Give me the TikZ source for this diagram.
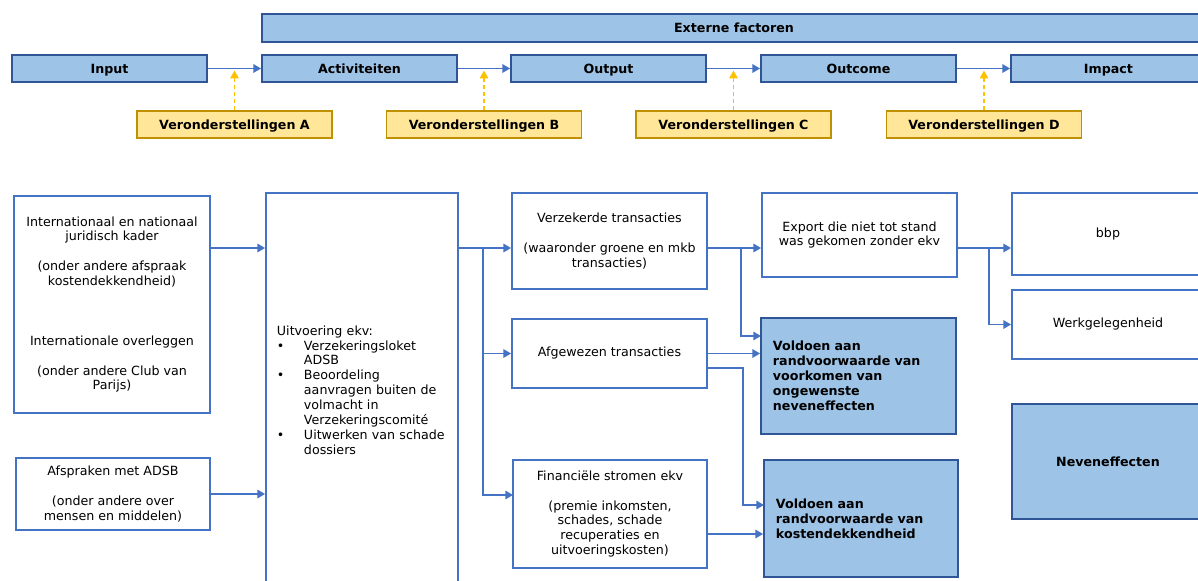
\documentclass[tikz,border=0pt]{standalone}
\usepackage{fontspec}
\setmainfont{DejaVu Sans}
\usetikzlibrary{arrows.meta}

\definecolor{boxblue}{RGB}{157,195,230}
\definecolor{edgeblue}{RGB}{47,85,151}
\definecolor{lineblue}{RGB}{68,114,196}
\definecolor{noteyellow}{RGB}{255,230,153}
\definecolor{noteedge}{RGB}{191,144,0}
\definecolor{dashyellow}{RGB}{255,192,0}

\newcommand{\diagfont}{\fontsize{9}{10.6}\selectfont}

\tikzset{
  base/.style={draw, line width=1.25pt, inner sep=2pt, align=center, font=\diagfont},
  bluebox/.style={base, fill=boxblue, draw=edgeblue, font=\diagfont\bfseries},
  stage/.style={bluebox, minimum width=4.875cm, minimum height=0.675cm,
    text height=1.6ex, text depth=0.4ex},
  whitebox/.style={base, fill=white, draw=lineblue},
  notebox/.style={base, fill=noteyellow, draw=noteedge, font=\diagfont\bfseries,
    minimum width=4.875cm, minimum height=0.675cm, text height=1.6ex, text depth=0.4ex},
  conn/.style={draw=lineblue, line width=1.25pt, -{Triangle[length=5.5pt,width=6pt]}},
  assume/.style={draw=dashyellow, line width=1.1pt, dash pattern=on 3pt off 2pt,
    shorten >=1.5pt, -{Triangle[length=5.5pt,width=6pt]}},
}

\begin{document}
\begin{tikzpicture}[x=0.025cm, y=-0.025cm]
\useasboundingbox (0,0) rectangle (1198,580);

% Top chain
\node[bluebox, minimum width=23.6cm, minimum height=0.7cm] (ext) at (734,28) {Externe factoren};
\node[stage] (input) at (109.5,68.5) {Input};
\node[stage] (activ) at (359.5,68.5) {Activiteiten};
\node[stage] (output) at (608.5,68.5) {Output};
\node[stage] (outcome) at (858.5,68.5) {Outcome};
\node[stage] (impact) at (1108.5,68.5) {Impact};

\draw[conn] (input.east) -- (activ.west);
\draw[conn] (activ.east) -- (output.west);
\draw[conn] (output.east) -- (outcome.west);
\draw[conn] (outcome.east) -- (impact.west);

% Assumptions
\node[notebox] (vera) at (234.5,124.5) {Veronderstellingen A};
\node[notebox] (verb) at (484,124.5) {Veronderstellingen B};
\node[notebox] (verc) at (733.5,124.5) {Veronderstellingen C};
\node[notebox] (verd) at (984,124.5) {Veronderstellingen D};

\draw[assume] (vera.north) -- (vera.north |- input.east);
\draw[assume] (verb.north) -- (verb.north |- input.east);
\draw[assume] (verc.north) -- (verc.north |- input.east);
\draw[assume] (verd.north) -- (verd.north |- input.east);

% Input column
\node[whitebox, minimum width=4.9cm, minimum height=5.425cm] (intl) at (112,304.5)
  {Internationaal en nationaal\\ juridisch kader\\[10.6pt] (onder andere afspraak\\ kostendekkendheid)\\[31.8pt]
   Internationale overleggen\\[10.6pt] (onder andere Club van\\ Parijs)};
\node[whitebox, minimum width=4.85cm, minimum height=1.8cm] (afspr) at (113,494)
  {Afspraken met ADSB\\[10.6pt] (onder andere over\\ mensen en middelen)};

% Activities
\node[whitebox, minimum width=4.8cm, minimum height=9.85cm, text width=4.25cm,
  inner xsep=0.275cm, align=left] (uitv) at (362,390)
  {Uitvoering ekv:\\
   \makebox[0.675cm][l]{\textbullet}Verzekeringsloket\\
   \hspace*{0.675cm}ADSB\\
   \makebox[0.675cm][l]{\textbullet}Beoordeling\\
   \hspace*{0.675cm}aanvragen buiten de\\
   \hspace*{0.675cm}volmacht in\\
   \hspace*{0.675cm}Verzekeringscomité\\
   \makebox[0.675cm][l]{\textbullet}Uitwerken van schade\\
   \hspace*{0.675cm}dossiers};

% Output column
\node[whitebox, minimum width=4.875cm, minimum height=2.4cm] (verz) at (609.5,241)
  {Verzekerde transacties\\[10.6pt] (waaronder groene en mkb\\ transacties)};
\node[whitebox, minimum width=4.875cm, minimum height=1.725cm] (afgew) at (609.5,353.5)
  {Afgewezen transacties};
\node[whitebox, minimum width=4.85cm, minimum height=2.7cm] (fin) at (610,514)
  {Financiële stromen ekv\\[10.6pt] (premie inkomsten,\\ schades, schade\\ recuperaties en\\ uitvoeringskosten)};

% Outcome column
\node[whitebox, minimum width=4.875cm, minimum height=2.1cm] (export) at (859.5,235)
  {Export die niet tot stand\\ was gekomen zonder ekv};
\node[bluebox, text width=4.275cm, inner xsep=0.3cm, align=left, minimum height=2.9cm] (vold1) at (858.5,376)
  {Voldoen aan\\ randvoorwaarde van\\ voorkomen van\\ ongewenste\\ neveneffecten};
\node[bluebox, text width=4.25cm, inner xsep=0.3cm, align=left, minimum height=2.925cm] (vold2) at (861,518.5)
  {Voldoen aan\\ randvoorwaarde van\\ kostendekkendheid};

% Impact column
\node[whitebox, minimum width=4.8cm, minimum height=2.05cm] (bbp) at (1108,234) {bbp};
\node[whitebox, minimum width=4.8cm, minimum height=1.725cm] (werk) at (1108,324.5) {Werkgelegenheid};
\node[bluebox, minimum width=4.8cm, minimum height=2.875cm] (nev) at (1108,461.5) {Neveneffecten};

% Connectors
\coordinate (row1) at (0,248);
\coordinate (splitA) at (483,248);
\coordinate (finin) at (513,495);
\coordinate (splitB) at (741,248);
\coordinate (vold1in) at (761,336);
\coordinate (afgewout) at (707,368);
\coordinate (vold2in) at (764,505);
\coordinate (finout) at (707,534);
\coordinate (splitC) at (989,248);

\draw[conn] (intl.east |- row1) -- (uitv.west |- row1);
\draw[conn] (afspr.east) -- (uitv.west |- afspr.east);

\draw[conn] (uitv.east |- row1) -- (verz.west |- row1);
\draw[conn] (splitA) |- (afgew.west);
\draw[conn] (splitA) |- (finin);

\draw[conn] (verz.east |- row1) -- (export.west |- row1);
\draw[conn] (splitB) |- (vold1in);
\draw[conn] (afgew.east) -- (vold1.west |- afgew.east);
\draw[conn] (afgewout) -- ++(36,0) |- (vold2in);
\draw[conn] (finout) -- (vold2.west |- finout);

\draw[conn] (export.east |- row1) -- (bbp.west |- row1);
\draw[conn] (splitC) |- (werk.west);

\end{tikzpicture}
\end{document}
